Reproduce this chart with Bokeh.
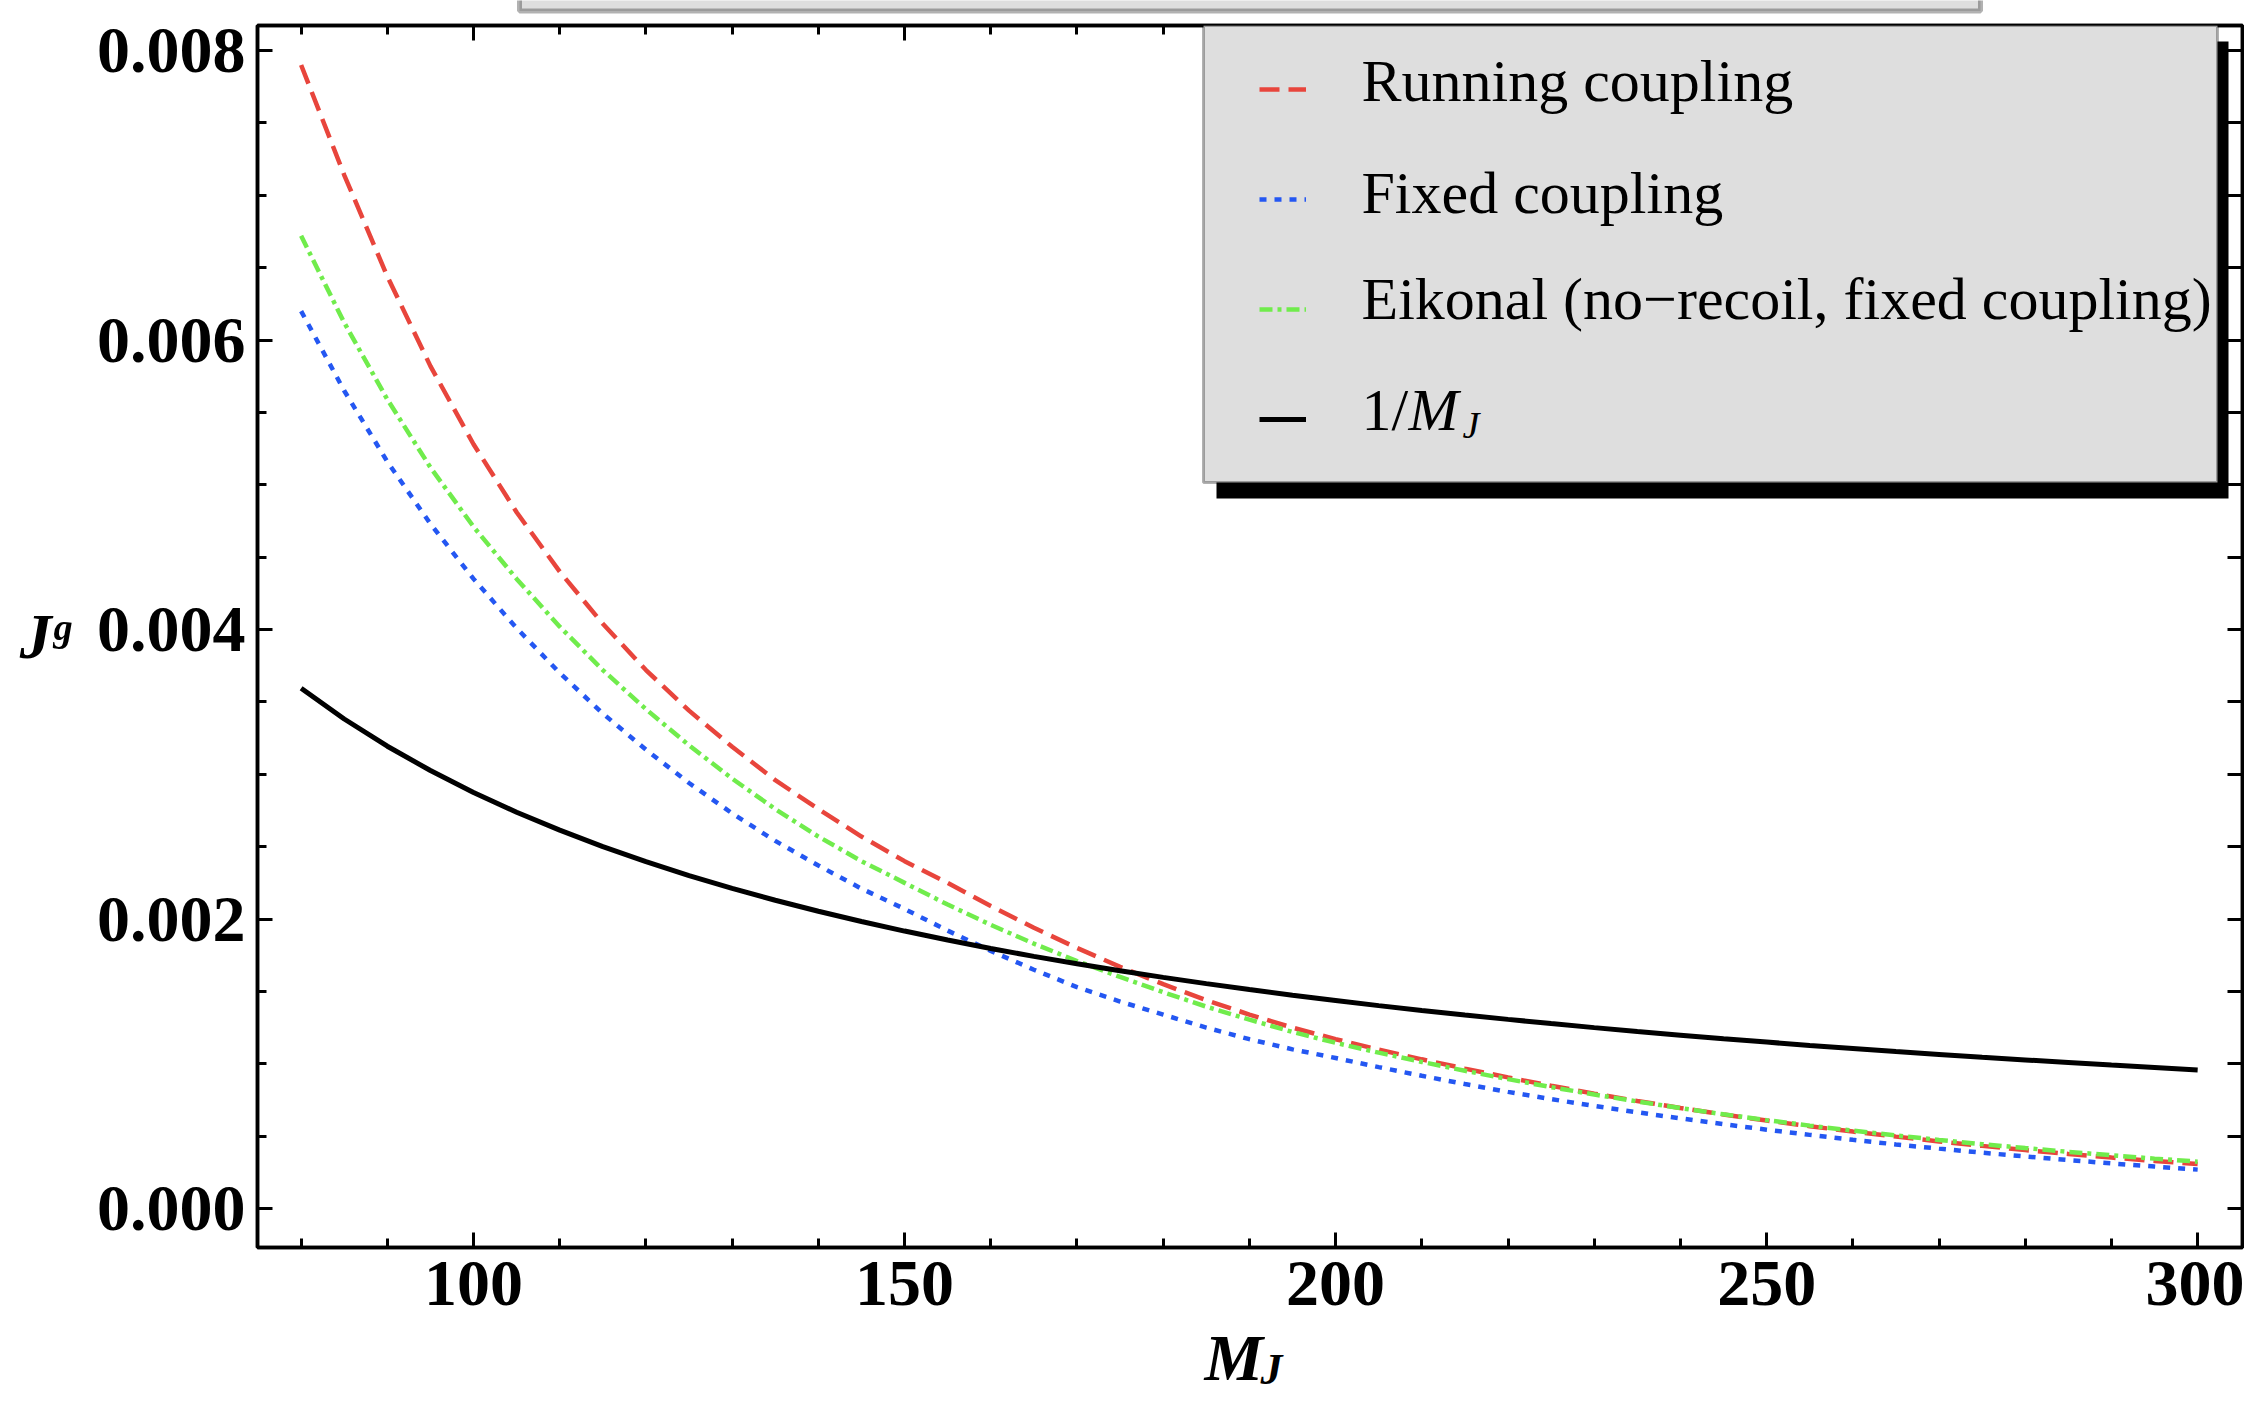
from bokeh.plotting import figure
from bokeh.layouts import column, row
from bokeh.models import (Range1d, LinearAxis, SingleIntervalTicker, FixedTicker,
                          PrintfTickFormatter, CustomJSTickFormatter, Legend, LegendItem,
                          BoxAnnotation, Label, ColumnDataSource)
from bokeh.embed import file_html
from bokeh.resources import INLINE

# ---------------- data ----------------
m_j = [80, 85, 90, 95, 100, 105, 110, 115, 120, 125, 130, 135, 140, 145, 150,
       155, 160, 165, 170, 175, 180, 185, 190, 195, 200, 205, 210, 215, 220, 225,
       230, 235, 240, 245, 250, 255, 260, 265, 270, 275, 280, 285, 290, 295, 300]

running = [0.007900, 0.007140, 0.006440, 0.005820, 0.005280, 0.004810, 0.004400,
           0.004040, 0.003720, 0.003440, 0.003190, 0.002960, 0.002760, 0.002570,
           0.002400, 0.002250, 0.002090, 0.001940, 0.001800, 0.001670, 0.001550,
           0.001440, 0.001340, 0.001250, 0.001170, 0.001098, 0.001031, 0.000967,
           0.000906, 0.000848, 0.000794, 0.000743, 0.000695, 0.000650, 0.000608,
           0.000569, 0.000532, 0.000497, 0.000464, 0.000433, 0.000404, 0.000377,
           0.000352, 0.000329, 0.000308]

fixed = [0.006200, 0.005650, 0.005160, 0.004730, 0.004350, 0.004010, 0.003700,
         0.003420, 0.003170, 0.002940, 0.002730, 0.002540, 0.002370, 0.002210,
         0.002070, 0.001920, 0.001780, 0.001650, 0.001530, 0.001430, 0.001340,
         0.001250, 0.001170, 0.001100, 0.001040, 0.000977, 0.000917, 0.000860,
         0.000806, 0.000756, 0.000709, 0.000665, 0.000623, 0.000583, 0.000545,
         0.000509, 0.000475, 0.000443, 0.000414, 0.000386, 0.000360, 0.000335,
         0.000312, 0.000290, 0.000269]

eikonal = [0.006720, 0.006120, 0.005590, 0.005120, 0.004710, 0.004350, 0.004020,
           0.003720, 0.003450, 0.003200, 0.002970, 0.002760, 0.002570, 0.002400,
           0.002250, 0.002100, 0.001960, 0.001830, 0.001710, 0.001600, 0.001495,
           0.001395, 0.001305, 0.001220, 0.001145, 0.001077, 0.001013, 0.000952,
           0.000894, 0.000839, 0.000788, 0.000740, 0.000694, 0.000651, 0.000611,
           0.000573, 0.000538, 0.000505, 0.000474, 0.000445, 0.000418, 0.000392,
           0.000368, 0.000345, 0.000324]

inv_mj = [0.003594, 0.003382, 0.003194, 0.003026, 0.002875, 0.002738, 0.002614,
          0.002500, 0.002396, 0.002300, 0.002212, 0.002130, 0.002054, 0.001983,
          0.001917, 0.001855, 0.001797, 0.001742, 0.001691, 0.001643, 0.001597,
          0.001554, 0.001513, 0.001474, 0.001438, 0.001402, 0.001369, 0.001337,
          0.001307, 0.001278, 0.001250, 0.001223, 0.001198, 0.001173, 0.001150,
          0.001127, 0.001106, 0.001085, 0.001065, 0.001045, 0.001027, 0.001009,
          0.000991, 0.000975, 0.000958]

series_labels = ["Running coupling", "Fixed coupling",
                 "Eikonal (no\u2212recoil, fixed coupling)", "1/"]

right_ticks = [0.0, 0.0005, 0.001, 0.0015, 0.002, 0.0025, 0.003, 0.0035, 0.004,
               0.0045, 0.005, 0.0055, 0.006, 0.0065, 0.007, 0.0075, 0.008]

# ---------------- styling ----------------
RED = "#e8453c"
BLUE = "#2457f2"
GREEN = "#70ec4c"
SERIF = "Liberation Serif"

TOTAL_W, TOTAL_H = 2244, 1394
TOP_H = 14          # strip holding the cut-off box above the plot
MAIN_H = 1325
XLAB_OVERLAP = 40
XLAB_H = TOTAL_H - TOP_H - MAIN_H + XLAB_OVERLAP
FRAME_W, FRAME_H = 1985, 1222
B_LEFT, B_TOP = 257, 11


def blank_fig(w, h):
    f = figure(width=w, height=h, output_backend="svg", toolbar_location=None,
               title=None, x_range=Range1d(0, w), y_range=Range1d(h, 0),
               x_axis_location=None, y_axis_location=None,
               min_border=0, min_border_left=0, min_border_right=0,
               min_border_top=0, min_border_bottom=0)
    f.outline_line_color = None
    f.background_fill_alpha = 0
    f.border_fill_alpha = 0
    f.grid.visible = False
    return f


# ---------------- main plot ----------------
p = figure(width=TOTAL_W, height=MAIN_H, output_backend="svg", toolbar_location=None,
           title=None,
           x_range=Range1d(74.94, 305.2), y_range=Range1d(-0.000269, 0.008173),
           x_axis_location=None, y_axis_location=None,
           min_border_left=B_LEFT, min_border_right=TOTAL_W - B_LEFT - FRAME_W,
           min_border_top=B_TOP, min_border_bottom=MAIN_H - B_TOP - FRAME_H)
p.background_fill_color = "white"
p.border_fill_color = "white"
p.outline_line_color = "black"
p.outline_line_width = 3.5
p.grid.visible = False


def style_axis(ax, labels=True, tick_len=15, minor_len=9):
    ax.axis_line_color = "black"
    ax.axis_line_width = 3.5
    ax.major_tick_in = tick_len
    ax.major_tick_out = 0
    ax.minor_tick_in = minor_len
    ax.minor_tick_out = 0
    ax.major_tick_line_width = 3
    ax.minor_tick_line_width = 3
    ax.major_tick_line_color = "black"
    ax.minor_tick_line_color = "black"
    if labels:
        ax.major_label_text_font = SERIF
        ax.major_label_text_font_style = "bold"
        ax.major_label_text_font_size = "66px"
        ax.major_label_text_color = "black"
    else:
        ax.formatter = CustomJSTickFormatter(code="return ''")
        ax.major_label_text_font_size = "1px"
        ax.major_label_standoff = 0


bottom = LinearAxis(ticker=SingleIntervalTicker(interval=50, num_minor_ticks=5))
style_axis(bottom)
bottom.major_label_standoff = 14
p.add_layout(bottom, "below")

top = LinearAxis(ticker=SingleIntervalTicker(interval=50, num_minor_ticks=5))
style_axis(top, labels=False)
p.add_layout(top, "above")

left = LinearAxis(ticker=SingleIntervalTicker(interval=0.002, num_minor_ticks=4),
                  formatter=PrintfTickFormatter(format="%.3f"))
style_axis(left)
left.major_label_standoff = 12
left.axis_label = "J\u1d4d"
left.axis_label_orientation = "horizontal"
left.axis_label_standoff = 24
left.axis_label_text_font = SERIF
left.axis_label_text_font_style = "bold italic"
left.axis_label_text_font_size = "64px"
left.axis_label_text_color = "black"
p.add_layout(left, "left")

right = LinearAxis(ticker=FixedTicker(ticks=right_ticks, minor_ticks=[]))
style_axis(right, labels=False)
p.add_layout(right, "right")

# ---------------- curves ----------------
src = ColumnDataSource(dict(m=m_j, run=running, fix=fixed, eik=eikonal, inv=inv_mj))
r_run = p.line("m", "run", source=src, line_color=RED, line_width=4.5, line_dash="20 9")
r_fix = p.line("m", "fix", source=src, line_color=BLUE, line_width=4.5, line_dash="7 8")
r_eik = p.line("m", "eik", source=src, line_color=GREEN, line_width=4.5,
               line_dash="13 5 4 5")
r_inv = p.line("m", "inv", source=src, line_color="black", line_width=5)

# ---------------- legend (shadow, box, line samples, texts) ----------------
p.add_layout(BoxAnnotation(left=959, right=1971, bottom=749, top=1206,
                           left_units="screen", right_units="screen",
                           bottom_units="screen", top_units="screen",
                           fill_color="black", fill_alpha=1, line_alpha=0))
p.add_layout(BoxAnnotation(left=946, right=1960, bottom=765, top=FRAME_H,
                           left_units="screen", right_units="screen",
                           bottom_units="screen", top_units="screen",
                           fill_color="#dedede", fill_alpha=1,
                           line_color="black", line_width=3))

legend = Legend(items=[LegendItem(label="", renderers=[r_run]),
                       LegendItem(label="", renderers=[r_fix]),
                       LegendItem(label="", renderers=[r_eik]),
                       LegendItem(label="", renderers=[r_inv])],
                location=(1002, 773), orientation="vertical",
                background_fill_alpha=0, border_line_alpha=0,
                padding=0, spacing=0, margin=0,
                glyph_width=47, glyph_height=110, label_height=110,
                label_standoff=0, label_width=0,
                label_text_font=SERIF, label_text_font_size="1px")
p.add_layout(legend)

legend_text_y = [1167, 1055, 949, 838]
for txt, ty in zip(series_labels, legend_text_y):
    p.add_layout(Label(x=1104, y=ty, x_units="screen", y_units="screen", text=txt,
                       text_font=SERIF, text_font_size="60px", text_baseline="middle",
                       text_align="left", text_color="black"))
# "M" and subscript "J" completing the last legend label
p.add_layout(Label(x=1151, y=838, x_units="screen", y_units="screen", text="M",
                   text_font=SERIF, text_font_style="italic", text_font_size="60px",
                   text_baseline="middle", text_align="left", text_color="black"))
p.add_layout(Label(x=1205, y=823, x_units="screen", y_units="screen", text="J",
                   text_font=SERIF, text_font_style="italic", text_font_size="38px",
                   text_baseline="middle", text_align="left", text_color="black"))

# ---------------- strip with the cut-off box above the plot ----------------
topfig = blank_fig(TOTAL_W, TOP_H)
topfig.add_layout(BoxAnnotation(left=519, right=1980, top=-20, bottom=10.5,
                                fill_color="#dedede", fill_alpha=1,
                                line_color="black", line_width=5))

# ---------------- x-axis title  M_J (strip overlapping the plot's bottom margin) ----
xfig = blank_fig(TOTAL_W, XLAB_H)
xfig.margin = (-XLAB_OVERLAP, 0, 0, 0)
xfig.add_layout(Label(x=1204, y=58, text="M", text_font=SERIF,
                      text_font_style="bold italic", text_font_size="66px",
                      text_baseline="middle", text_align="left", text_color="black"))
xfig.add_layout(Label(x=1260, y=70, text="J", text_font=SERIF,
                      text_font_style="bold italic", text_font_size="44px",
                      text_baseline="middle", text_align="left", text_color="black"))

# the main plot sits in its own row so the strips keep their own frames
layout = column(topfig, row(p, spacing=0), xfig, spacing=0)
open("out.html", "w").write(file_html(layout, INLINE))
